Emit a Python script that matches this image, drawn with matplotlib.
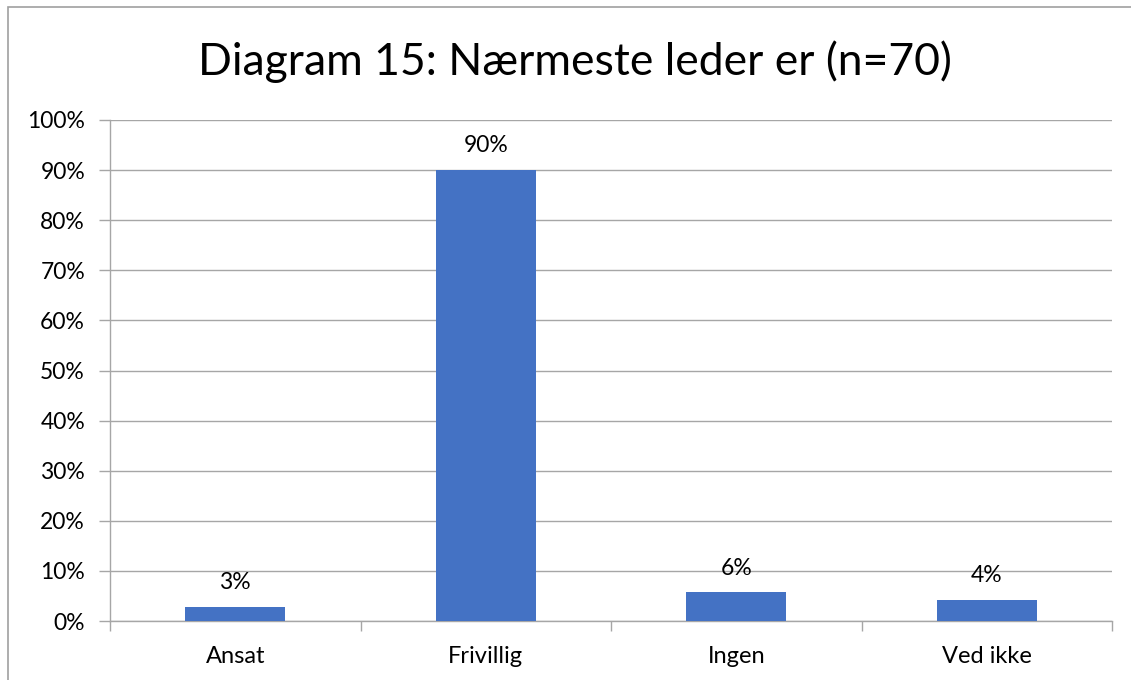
import matplotlib
matplotlib.use("Agg")
from matplotlib import pyplot as plt
from matplotlib.patches import Rectangle
from matplotlib.ticker import FixedLocator, FuncFormatter

categories = ['Ansat', 'Frivillig', 'Ingen', 'Ved ikke']
values = [2.86, 90.0, 5.71, 4.29]
value_labels = ['3%', '90%', '6%', '4%']

plt.rcParams['font.family'] = ['Lato', 'DejaVu Sans']

fig = plt.figure(figsize=(11.31, 6.8), dpi=100)
ax = fig.add_axes([110 / 1131, 1 - 621 / 680, 1002 / 1131, 501 / 680])

grid_col = '#a6a6a6'
x = list(range(len(categories)))
ax.bar(x, values, width=0.4, color='#4472c4', zorder=3)
for xi, v, lab in zip(x, values, value_labels):
    ax.annotate(lab, (xi, v), xytext=(0, 10), textcoords='offset points',
                ha='center', va='bottom', fontsize=16.5, color='#000000')

ax.set_xlim(-0.5, len(categories) - 0.5)
ax.set_ylim(0, 100)
ax.yaxis.set_major_locator(FixedLocator(range(0, 101, 10)))
ax.yaxis.set_major_formatter(FuncFormatter(lambda v, p: f'{int(v)}%'))
ax.grid(axis='y', color=grid_col, linewidth=1, zorder=0)

ax.set_xticks(x)
ax.set_xticklabels(categories, fontsize=17)
ax.xaxis.set_minor_locator(FixedLocator([i - 0.5 for i in range(len(categories) + 1)]))
ax.tick_params(axis='x', which='major', length=0, pad=18)
ax.tick_params(axis='x', which='minor', length=7, color=grid_col, width=1)
ax.tick_params(axis='y', length=8, color=grid_col, width=1, labelsize=16.5, pad=10)

for side in ['top', 'right']:
    ax.spines[side].set_visible(False)
for side in ['left', 'bottom']:
    ax.spines[side].set_color(grid_col)
    ax.spines[side].set_linewidth(1)

fig.text(575 / 1131, 1 - 62 / 680, 'Diagram 15: Nærmeste leder er (n=70)',
         ha='center', va='center', fontsize=32)

fig.patches.append(Rectangle((8 / 1131, -0.1), 1.2, 1 - 7 / 680 + 0.1, transform=fig.transFigure,
                             fill=False, edgecolor='#a0a0a0', linewidth=1.2))

fig.savefig('out.png', dpi=100)
